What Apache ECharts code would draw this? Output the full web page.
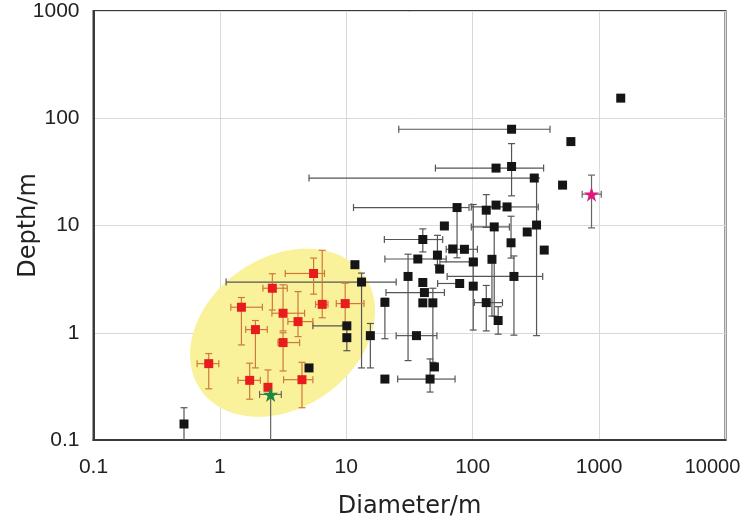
<!DOCTYPE html>
<html>
<head>
<meta charset="utf-8">
<script src="https://cdn.jsdelivr.net/npm/echarts@6/dist/echarts.min.js"></script>
<style>
html,body{margin:0;padding:0;background:#fff;}
#chart{width:740px;height:517px;}
</style>
</head>
<body>
<div id="chart"></div>
<script>
// tick labels
const xTicks = [0.1, 1, 10, 100, 1000, 10000];
const yTicks = [0.1, 1, 10, 100, 1000];

// Black points: [diameter, depth, xLow, xHigh, yLow, yHigh]
const blackPoints = [
  [1483, 154, null, null, null, null],
  [598, 60.6, null, null, null, null],
  [514, 23.8, null, null, null, null],
  [203, 79, 26, 409, null, null],
  [153, 34.3, 50.7, 364, null, null],
  [203, 35.5, null, null, 18.9, 58],
  [307, 27.7, 5.07, null, null, null],
  [320, 10.1, null, null, 0.94, 27.7],
  [75.2, 14.7, 11.4, 93.5, 5.0, null],
  [128, 13.9, null, null, 9.6, 19.4],
  [153, 15.5, null, null, null, null],
  [187, 14.9, 97.5, 330, null, null],
  [148, 9.7, 97.5, 195, 1.43, null],
  [201, 6.9, null, null, 4.97, 12.2],
  [270, 8.7, null, null, null, null],
  [368, 5.9, null, null, null, null],
  [142, 4.84, null, null, 1.43, null],
  [212, 3.35, 62.8, 358, 0.95, 5.2],
  [101, 4.57, 55, 109, 1.06, 15.7],
  [101, 2.72, null, null, null, null],
  [78.9, 2.88, 52.8, null, null, null],
  [128, 1.91, 103, 172, 1.04, 2.76],
  [159, 1.3, null, null, 0.97, 1.75],
  [86, 6.0, 61.7, 109, null, null],
  [69.5, 6.04, null, null, null, null],
  [52.6, 5.3, null, null, 4.3, 8.1],
  [54.8, 3.92, null, null, null, null],
  [40.3, 7.4, 20, 57.9, 5.67, 9.3],
  [36.8, 4.87, 20.2, 61.7, null, null],
  [59.7, 9.9, null, null, null, null],
  [30.8, 3.35, null, null, 0.55, 5.4],
  [40.3, 2.94, null, null, null, null],
  [41.5, 2.37, 20.6, 59.7, null, null],
  [40.3, 1.9, null, null, null, null],
  [48.4, 1.9, null, null, 0.53, 2.6],
  [20.2, 1.92, null, null, 0.88, 2.1],
  [35.9, 0.94, 24.8, 52.1, null, null],
  [49.8, 0.48, null, null, null, null],
  [46, 0.37, 25.5, 72.5, 0.28, 0.57],
  [20.2, 0.37, null, null, null, null],
  [15.5, 0.94, null, null, 0.47, 1.22],
  [13.2, 2.97, 1.12, 24.8, 0.47, 3.6],
  [11.7, 4.31, null, null, null, null],
  [10.1, 1.16, 5.44, null, null, null],
  [10.1, 0.9, null, null, 0.68, 1.16],
  [0.52, 0.141, null, null, 0.1, 0.2],
  [5.07, 0.47, null, null, null, null]
];

// Red points (inside ellipse)
const redPoints = [
  [5.51, 3.57, 3.29, 6.72, 2.29, 4.97],
  [2.6, 2.6, 2.19, 3.41, 1.63, 3.55],
  [1.48, 1.73, 1.22, 2.17, 0.77, 2.13],
  [3.16, 1.52, 2.58, 4.68, 1.04, 2.8],
  [6.45, 1.84, 5.71, 7.16, 1.38, 5.87],
  [9.8, 1.87, 8.33, 13.8, 1.2, 2.9],
  [4.15, 1.27, 3.45, 5.44, 0.92, 2.42],
  [1.91, 1.07, 1.6, 2.37, 0.47, 1.3],
  [3.16, 0.81, 2.88, 4.27, 0.44, 1.0],
  [0.816, 0.515, 0.66, 0.98, 0.30, 0.64],
  [1.72, 0.36, 1.39, 2.09, 0.24, 0.52],
  [2.4, 0.31, null, null, null, 0.45],
  [4.46, 0.365, 3.19, 5.44, 0.2, 0.53]
];

const greenPoints = [[2.52, 0.266, 2.06, 3.06, 0.1, null]];
const pinkPoints = [[871, 19.6, 735, 1040, 9.5, 29.5]];

// Ellipse annotation: center (data), semi-axes in x-decades, rotation degrees
const ellipseCenter = [3.13, 1.0];
const ellipseAxes = [0.79, 0.595];
const ellipseAngle = 35;

const AXIS_MIN_Y = 0.1;

function errRenderer(points, color) {
  return function (params, api) {
    const p = points[params.dataIndex];
    const c = api.coord([p[0], p[1]]);
    const cap = 3.5;
    const children = [];
    const st = { stroke: color, lineWidth: 1.2 };
    function seg(x1, y1, x2, y2) {
      children.push({ type: 'line', shape: { x1, y1, x2, y2 }, style: st });
    }
    if (p[2] != null) { const q = api.coord([p[2], p[1]]); seg(q[0], c[1], c[0], c[1]); seg(q[0], c[1] - cap, q[0], c[1] + cap); }
    if (p[3] != null) { const q = api.coord([p[3], p[1]]); seg(c[0], c[1], q[0], c[1]); seg(q[0], c[1] - cap, q[0], c[1] + cap); }
    if (p[4] != null) {
      const q = api.coord([p[0], p[4]]);
      seg(c[0], c[1], c[0], q[1]);
      if (p[4] > AXIS_MIN_Y) seg(c[0] - cap, q[1], c[0] + cap, q[1]);
    }
    if (p[5] != null) { const q = api.coord([p[0], p[5]]); seg(c[0], q[1], c[0], c[1]); seg(c[0] - cap, q[1], c[0] + cap, q[1]); }
    return { type: 'group', children };
  };
}

const starPath = 'path://M50,0 L61.8,35.1 L98.1,35.1 L68.8,56.7 L79.4,90.5 L50,69.1 L20.6,90.5 L31.2,56.7 L1.9,35.1 L38.2,35.1 Z';

const chart = echarts.init(document.getElementById('chart'), null, { renderer: 'canvas' });

const fmt = v => String(+Number(v).toPrecision(6));
const xMax = xTicks[xTicks.length - 1];
const fmtX = v => (Math.abs(v - xMax) < 1e-6 ? '{m|' + fmt(v) + '}' : fmt(v));

const option = {
  animation: false,
  backgroundColor: '#fff',
  grid: { left: 93.5, right: 14.5, top: 11, bottom: 77, containLabel: false, outerBoundsMode: 'none', show: true, borderColor: '#3a3a3a', borderWidth: 2, backgroundColor: 'transparent' },
  xAxis: {
    type: 'log', logBase: 10, min: xTicks[0], max: xMax,
    name: 'Diameter/m', nameLocation: 'middle', nameGap: 55, nameMoveOverlap: false,
    nameTextStyle: { fontSize: 24, fontFamily: 'DejaVu Sans', color: '#222' },
    axisLine: { show: true, lineStyle: { color: '#3a3a3a', width: 2 } },
    axisTick: { show: false },
    axisLabel: {
      formatter: fmtX, fontSize: 21, fontFamily: 'Liberation Sans', color: '#222', margin: 17,
      rich: { m: { fontSize: 20, fontFamily: 'Liberation Sans', color: '#222', padding: [0, 26, 0, 0] } }
    },
    splitLine: { show: true, lineStyle: { color: '#d9d9d9', width: 1 } },
    minorTick: { show: false }, minorSplitLine: { show: false }
  },
  yAxis: {
    type: 'log', logBase: 10, min: yTicks[0], max: yTicks[yTicks.length - 1],
    name: 'Depth/m', nameLocation: 'middle', nameGap: 53, nameRotate: 90, nameMoveOverlap: false,
    nameTextStyle: { fontSize: 24, fontFamily: 'DejaVu Sans', color: '#222' },
    axisLine: { show: true, lineStyle: { color: '#3a3a3a', width: 2 } },
    axisTick: { show: false },
    axisLabel: { formatter: fmt, fontSize: 21, fontFamily: 'Liberation Sans', color: '#222', margin: 14 },
    splitLine: { show: true, lineStyle: { color: '#d9d9d9', width: 1 } }
  },
  series: [
    {
      type: 'custom', name: 'ellipse', silent: true, z: 1,
      data: [[ellipseCenter[0], ellipseCenter[1]]],
      renderItem: function (params, api) {
        const c = api.coord(ellipseCenter);
        const dec = api.coord([ellipseCenter[0] * 10, ellipseCenter[1]])[0] - c[0];
        const a = ellipseAxes[0] * dec, b = ellipseAxes[1] * dec;
        const th = ellipseAngle * Math.PI / 180;
        const pts = [];
        for (let i = 0; i < 120; i++) {
          const t = i / 120 * Math.PI * 2;
          const dx = a * Math.cos(t) * Math.cos(th) - b * Math.sin(t) * Math.sin(th);
          const dy = a * Math.cos(t) * Math.sin(th) + b * Math.sin(t) * Math.cos(th);
          pts.push([c[0] + dx, c[1] - dy]);
        }
        return { type: 'polygon', shape: { points: pts }, style: { fill: '#faf29a', stroke: null } };
      }
    },
    { type: 'custom', z: 2, data: blackPoints.map(p => [p[0], p[1]]), renderItem: errRenderer(blackPoints, '#555555') },
    { type: 'custom', z: 2, data: redPoints.map(p => [p[0], p[1]]), renderItem: errRenderer(redPoints, '#cc7a3a') },
    { type: 'custom', z: 2, data: greenPoints.map(p => [p[0], p[1]]), renderItem: errRenderer(greenPoints, '#666666') },
    { type: 'custom', z: 2, data: pinkPoints.map(p => [p[0], p[1]]), renderItem: errRenderer(pinkPoints, '#666666') },
    { type: 'scatter', z: 3, symbol: 'rect', symbolSize: 9, itemStyle: { color: '#151515', opacity: 1 }, data: blackPoints.map(p => [p[0], p[1]]) },
    { type: 'scatter', z: 4, symbol: 'rect', symbolSize: 9, itemStyle: { color: '#e81c1c', opacity: 1 }, data: redPoints.map(p => [p[0], p[1]]) },
    { type: 'scatter', z: 5, symbol: starPath, symbolSize: 15, itemStyle: { color: '#1c8a3e', opacity: 1 }, data: greenPoints.map(p => [p[0], p[1]]) },
    { type: 'scatter', z: 5, symbol: starPath, symbolSize: 15, itemStyle: { color: '#e0177c', opacity: 1 }, data: pinkPoints.map(p => [p[0], p[1]]) }
  ]
};
chart.setOption(option);
</script>
</body>
</html>
